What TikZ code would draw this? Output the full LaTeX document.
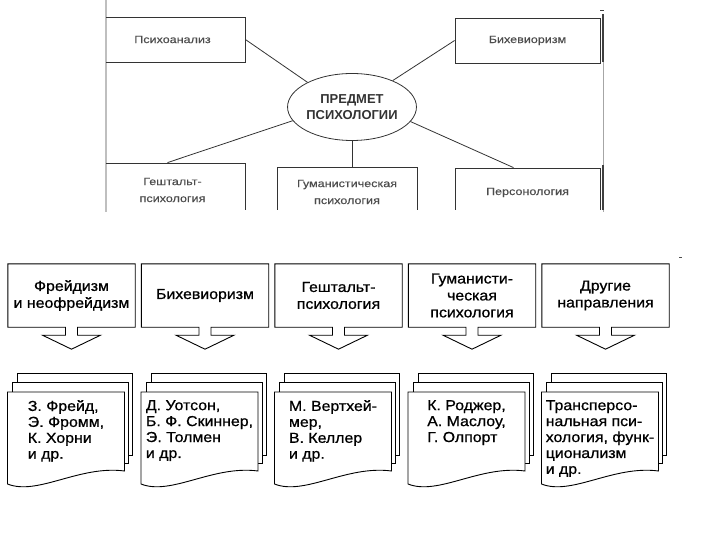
\documentclass[tikz,border=0pt]{standalone}
\usepackage{fontspec}
\setmainfont{Liberation Sans}
\newfontfamily\widesans[FakeStretch=1.1, FakeBold=0.8]{Liberation Sans}
\newfontfamily\scansans[FakeStretch=1.2, FakeBold=0.3]{Liberation Sans}
\usetikzlibrary{shapes.geometric,calc}

\tikzset{
	topbox/.style={draw=black!80, line width=0.8bp, minimum width=145bp, minimum height=45bp,
		inner sep=0pt, align=center, text=black!70, font=\scansans\fontsize{10.5}{17}\selectfont},
	subject/.style={ellipse, draw=black!80, line width=0.8bp, minimum width=127bp, minimum height=67bp,
		inner sep=0pt, align=center, text=black!80, font=\bfseries\fontsize{13}{16}\selectfont},
	link/.style={draw=black!80, line width=0.8bp},
	headbox/.style={minimum width=127bp, minimum height=63bp, inner sep=0pt, align=center,
		font=\widesans\fontsize{14.5}{17}\selectfont},
	frame/.style={draw=black, line width=0.9bp, line join=miter},
	sheet/.style={draw=black, fill=white, line width=0.9bp},
	names/.style={anchor=north, inner sep=0pt, align=left,
		font=\widesans\fontsize{14.5}{16}\selectfont}
}

\begin{document}
\begin{tikzpicture}[x=1bp, y=-1bp]
	\useasboundingbox (0,0) rectangle (720,540);

	% === scanned scheme (top) ===
	\draw[black!25, line width=1.2bp] (106,0) -- (106,212);
	\draw[black!35, line width=0.8bp] (603,14) -- (603,212);
	\draw[black!75, line width=1.2bp] (603,14) -- (603,62);
	\draw[black!75, line width=1.2bp] (603,165) -- (603,210);
	\draw[black!75, line width=1bp] (600,11) -- (604,11);
	\begin{scope}
		\clip (106,0) rectangle (603,210);
		\node[topbox] (psy) at (172.5,39.5) {Психоанализ};
		\node[topbox] (bih) at (527.5,40.5) {Бихевиоризм};
		\node[subject] (subj) at (352,107) {ПРЕДМЕТ\\ПСИХОЛОГИИ};
		\node[topbox, minimum height=54bp] (gest) at (172.5,190) {Гештальт-\\психология};
		\node[topbox, minimum width=140bp, minimum height=50bp] (hum) at (347,192) {Гуманистическая\\психология};
		\node[topbox, minimum height=49bp] (pers) at (527.5,192.5) {Персонология};

		\draw[link] (psy.east) -- (subj.151);
		\draw[link] (bih.west) -- (subj.33);
		\draw[link] (subj.193) -- ([xshift=-5bp]gest.north);
		\draw[link] (subj.south) -- (subj.south |- hum.north);
		\draw[link] (subj.-14) -- ([xshift=-14bp]pers.north);
	\end{scope}

	% === directions and names (bottom) ===
	\draw[black!70, line width=0.8bp] (679,257) -- (682,257);
	\foreach \i/\head/\who in {
		1/{Фрейдизм\\и неофрейдизм}/{З. Фрейд,\\Э. Фромм,\\К. Хорни\\и др.},
		2/{Бихевиоризм}/{Д. Уотсон,\\Б. Ф. Скиннер,\\Э. Толмен\\и др.},
		3/{Гештальт-\\психология}/{М. Вертхей-\\мер,\\В. Келлер\\и др.},
		4/{Гуманисти-\\ческая\\психология}/{К. Роджер,\\А. Маслоу,\\Г. Олпорт},
		5/{Другие\\направления}/{Трансперсо-\\нальная пси-\\хология, функ-\\ционализм\\и др.}} {
		\pgfmathsetmacro\cx{71.5+133.5*(\i-1)}
		% heading box with its arrow
		\node[headbox] (head\i) at (\cx,295.5) {\head};
		\draw[frame] (head\i.south west) -- (head\i.north west) -- (head\i.north east)
			-- (head\i.south east) -- ($(head\i.south)+(6,0)$) -- ++(0,8) -- ++(23,0)
			-- ($(head\i.south)+(0,22)$) -- ++(-29,-14) -- ++(23,0) -- ++(0,-8) -- cycle;
		% stack of sheets
		\draw[sheet] (\cx-54,373) rectangle (\cx+61,455);
		\draw[sheet] (\cx-59,382) rectangle (\cx+57,463);
		\draw[sheet] (\cx-64,392) -- (\cx+53,392) -- (\cx+53,471)
			.. controls (\cx+8,465) and (\cx-34,496) .. (\cx-64,484) -- cycle;
		\node[names] (names\i) at (\cx-5.5,400) {\who};
	}
\end{tikzpicture}
\end{document}
